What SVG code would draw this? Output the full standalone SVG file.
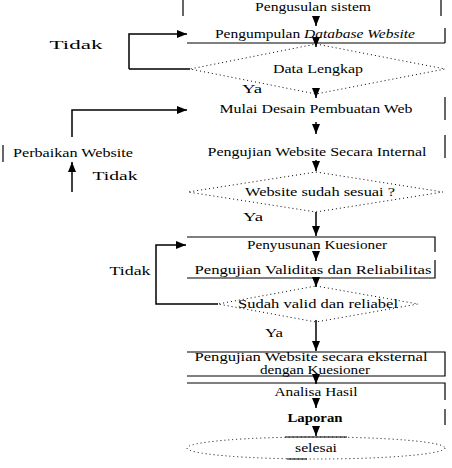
<svg xmlns="http://www.w3.org/2000/svg" width="452" height="468" viewBox="0 0 452 468">
<style>
text{font-family:"Liberation Serif","Times New Roman",serif;font-size:11.5px;fill:#000;text-anchor:middle}
.big{font-size:12.5px}
.ln{stroke:#000;stroke-width:1.2;fill:none}
.dot{stroke:#000;stroke-width:1;fill:none;stroke-dasharray:1 3}
.con{stroke:#000;stroke-width:1.5;fill:none}
</style>
<defs>
<marker id="ah" markerUnits="userSpaceOnUse" markerWidth="10" markerHeight="8" refX="10" refY="4" orient="auto">
<path d="M0,0 L10,4 L0,8 z" fill="#000"/>
</marker>
</defs>
<rect width="452" height="468" fill="#fff"/>

<g id="n1">
<path class="ln" d="M183,0 V16 M441,0 V16"/>
<text x="313" y="11" textLength="116" lengthAdjust="spacingAndGlyphs">Pengusulan sistem</text>
</g>
<g id="n2">
<path class="ln" d="M445,28 V43 M187,43 H445"/>
<text x="315" y="38" textLength="200" lengthAdjust="spacingAndGlyphs">Pengumpulan <tspan font-style="italic">Database Website</tspan></text>
</g>
<g id="d1">
<polygon class="dot" points="316,44 445,69 316,94 190,69"/>
<text x="318" y="73" textLength="90" lengthAdjust="spacingAndGlyphs">Data Lengkap</text>
</g>
<g id="n3">
<path class="ln" d="M445,97 V120"/>
<text x="316" y="113" textLength="193" lengthAdjust="spacingAndGlyphs">Mulai Desain Pembuatan Web</text>
</g>
<g id="n4">
<path class="ln" d="M445,135 V158"/>
<text x="317" y="156" textLength="219" lengthAdjust="spacingAndGlyphs">Pengujian Website Secara Internal</text>
</g>
<g id="perbaikan">
<path class="ln" d="M3,145 V162"/>
<text x="73" y="157" textLength="120" lengthAdjust="spacingAndGlyphs">Perbaikan Website</text>
</g>
<g id="d2">
<polygon class="dot" points="316,172 443,192 316,212 188,192"/>
<text x="320" y="196" textLength="150" lengthAdjust="spacingAndGlyphs">Website sudah sesuai ?</text>
</g>
<g id="n5">
<path class="ln" d="M187,237 H435 V252"/>
<text x="317" y="249" textLength="140" lengthAdjust="spacingAndGlyphs">Penyusunan Kuesioner</text>
</g>
<g id="n6">
<path class="ln" d="M435,260 V278 H187"/>
<text x="313" y="274" textLength="237" lengthAdjust="spacingAndGlyphs">Pengujian Validitas dan Reliabilitas</text>
</g>
<g id="d3">
<polygon class="dot" points="316,286 418,304 316,322 218,304"/>
<text x="318" y="308" textLength="160" lengthAdjust="spacingAndGlyphs">Sudah valid dan reliabel</text>
</g>
<g id="n7">
<path class="ln" d="M187,352 H445 V376 H187"/>
<text x="311" y="361" textLength="233" lengthAdjust="spacingAndGlyphs">Pengujian Website secara eksternal</text>
<text x="315" y="374" textLength="110" lengthAdjust="spacingAndGlyphs">dengan Kuesioner</text>
</g>
<g id="n8">
<path class="ln" d="M187,383 H445 V400"/>
<text x="316" y="396" textLength="83" lengthAdjust="spacingAndGlyphs">Analisa Hasil</text>
</g>
<g id="n9">
<path class="ln" d="M445,409 V425"/>
<text x="315" y="422" textLength="55" lengthAdjust="spacingAndGlyphs" font-weight="bold">Laporan</text>
</g>
<g id="end">
<ellipse class="dot" cx="316" cy="448" rx="129" ry="11" stroke-dasharray="1 3 1 3 6 8"/>
<path class="ln" d="M285,437 H347 M287,459 H307"/>
<text x="316" y="452" textLength="42" lengthAdjust="spacingAndGlyphs">selesai</text>
</g>

<g id="connectors">
<path class="con" marker-end="url(#ah)" d="M316,16 V26"/>
<path class="con" marker-end="url(#ah)" d="M316,38 V47"/>
<path class="con" marker-end="url(#ah)" d="M129,69 H190 M129,69 V34 H187"/>
<path class="con" marker-end="url(#ah)" d="M316,89 V98"/>
<path class="con" marker-end="url(#ah)" d="M316,122 V134"/>
<path class="con" marker-end="url(#ah)" d="M72,137 V110 H187"/>
<path class="con" marker-end="url(#ah)" d="M72,192 V162"/>
<path class="con" marker-end="url(#ah)" d="M316,160 V171"/>
<path class="con" marker-end="url(#ah)" d="M316,212 V236"/>
<path class="con" marker-end="url(#ah)" d="M316,252 V261"/>
<path class="con" marker-end="url(#ah)" d="M316,278 V287"/>
<path class="con" marker-end="url(#ah)" d="M218,304 H156 V245 H186"/>
<path class="con" marker-end="url(#ah)" d="M316,320 V351"/>
<path class="con" marker-end="url(#ah)" d="M316,376 V384"/>
<path class="con" marker-end="url(#ah)" d="M316,400 V408"/>
<path class="con" marker-end="url(#ah)" d="M316,426 V436"/>
</g>

<g id="labels">
<text class="big" x="76" y="49" textLength="53" lengthAdjust="spacingAndGlyphs">Tidak</text>
<text x="252" y="93" textLength="20" lengthAdjust="spacingAndGlyphs">Ya</text>
<text class="big" x="115" y="180" textLength="45" lengthAdjust="spacingAndGlyphs">Tidak</text>
<text x="253" y="221" textLength="20" lengthAdjust="spacingAndGlyphs">Ya</text>
<text class="big" x="130" y="275" textLength="41" lengthAdjust="spacingAndGlyphs">Tidak</text>
<text x="274" y="337" textLength="18" lengthAdjust="spacingAndGlyphs">Ya</text>
</g>
</svg>
